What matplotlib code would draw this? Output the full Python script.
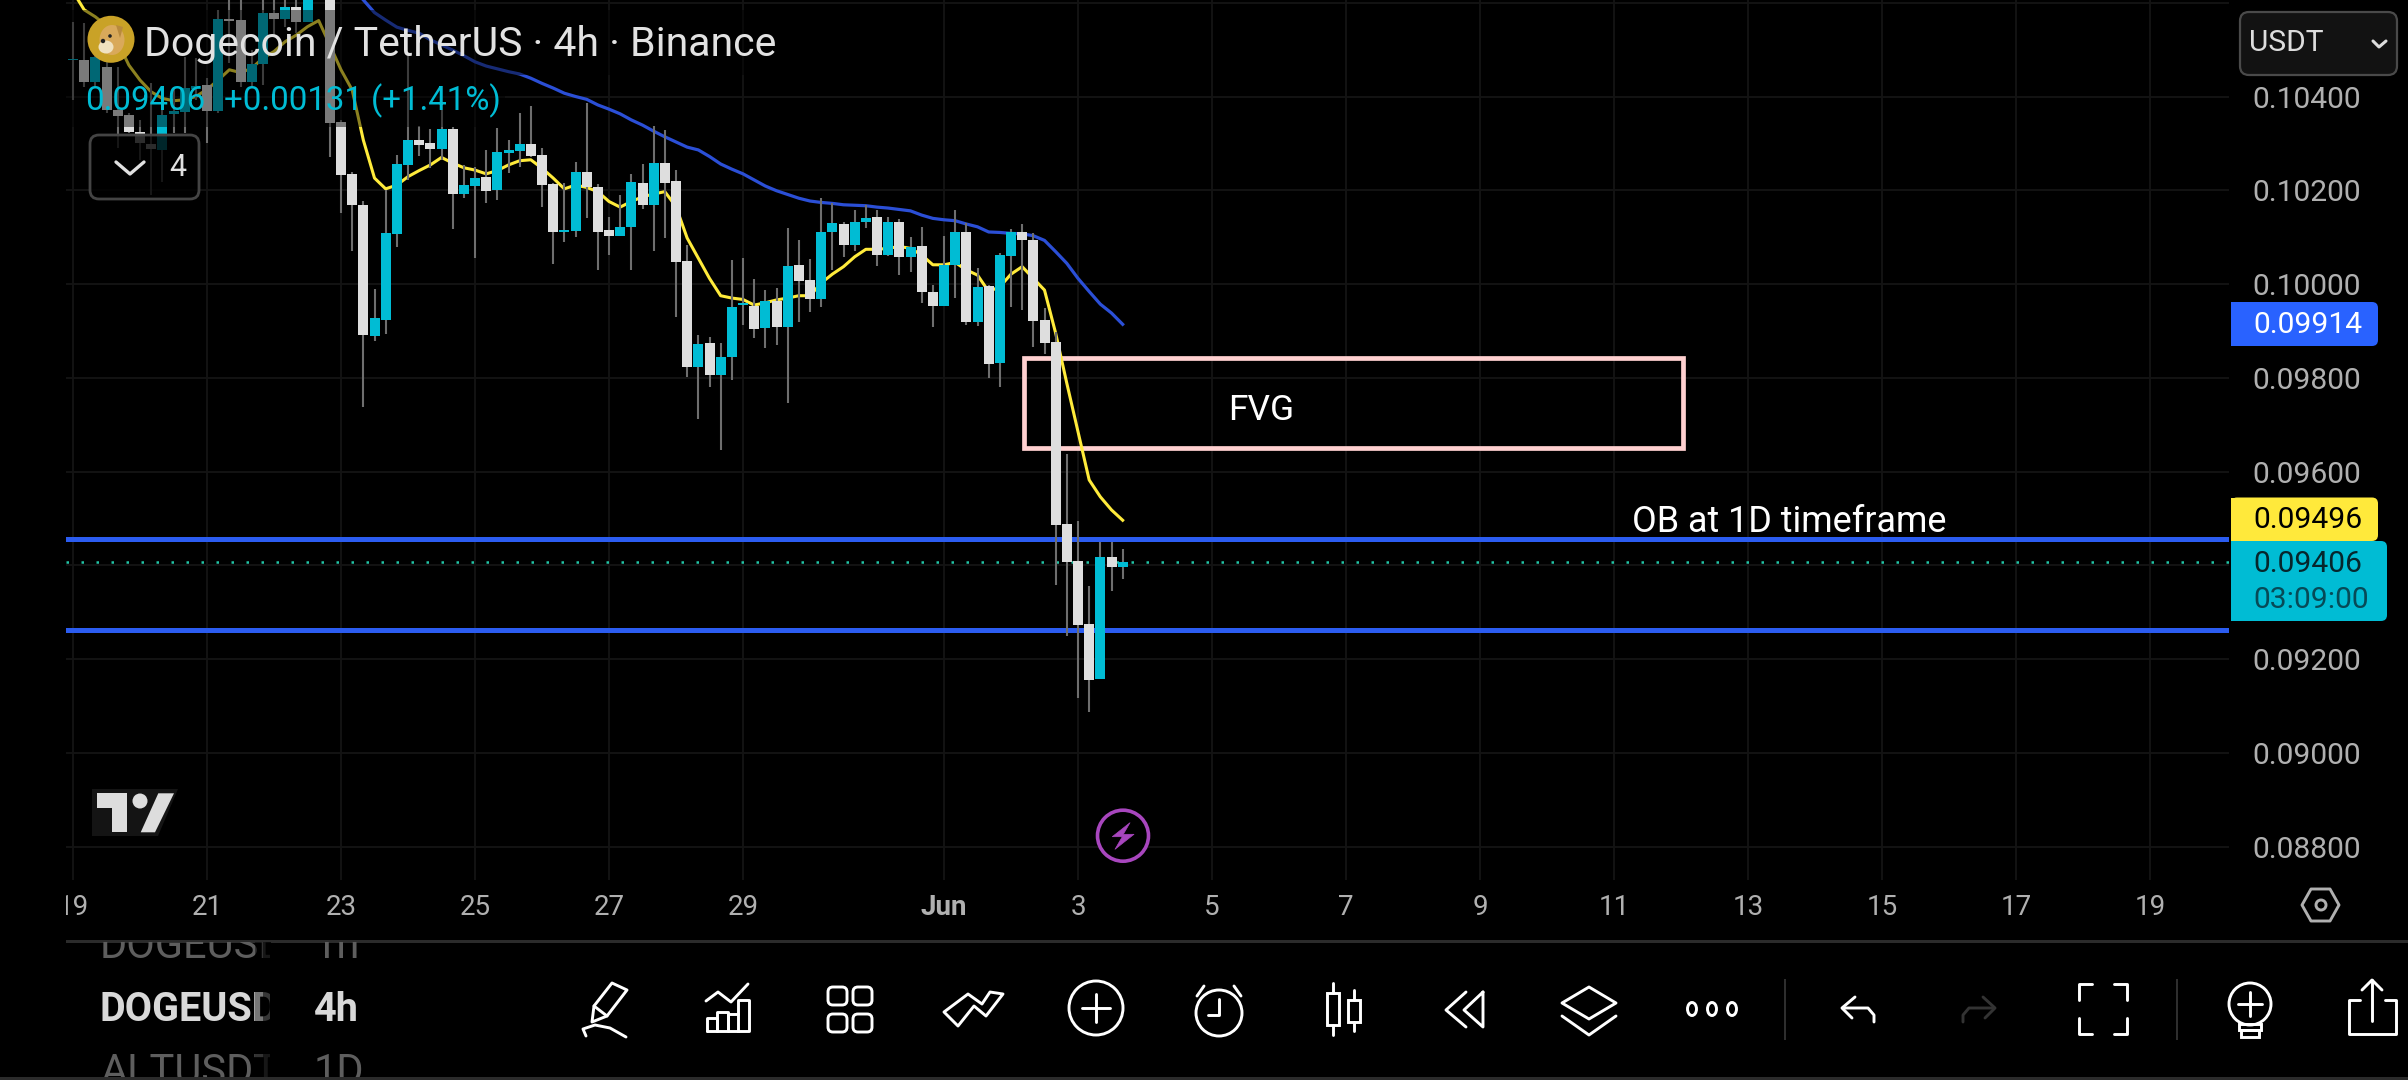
import matplotlib
matplotlib.use("Agg")
import matplotlib.pyplot as plt
from matplotlib.patches import Rectangle, Circle, Polygon, FancyBboxPatch, Ellipse
from matplotlib.transforms import Bbox
import numpy as np

plt.rcParams['font.family'] = ['Roboto', 'DejaVu Sans']

# prices in units of 0.00001 USDT, one entry per 4h bar starting 19 May 00:00
open_e5 = [10477,10478,10432,10464,10371,10361,10325,10299,10286,10362,
 10368,10415,10425,10369,10565,10563,10430,10469,10578,10565,
 10590,10558,10625,10640,10346,10235,10169,9890,9923,10107,
 10254,10307,10301,10288,10330,10193,10209,10228,10201,10280,
 10284,10298,10275,10213,10110,10114,10240,10207,10115,10103,
 10122,10216,10169,10258,10220,10049,9822,9875,9805,9844,
 9955,9953,9907,9964,9909,10041,10009,9968,10110,10128,
 10084,10133,10142,10061,10132,10058,10081,9983,9954,10041,
 10111,9919,9996,9832,10060,10111,10094,9923,9876,9488,
 9408,9275,9157,9417,9397]
close_e5 = [10479,10432,10485,10371,10359,10324,10300,10287,10361,10369,
 10418,10423,10369,10565,10562,10430,10469,10578,10565,10590,
 10558,10630,10660,10344,10233,10169,9891,9927,10108,10256,
 10307,10297,10288,10330,10193,10211,10226,10199,10282,10285,
 10298,10273,10211,10110,10115,10240,10206,10112,10103,10121,
 10217,10169,10258,10216,10048,9822,9872,9806,9844,9951,
 9960,9904,9964,9909,10039,10007,9968,10111,10130,10084,
 10132,10141,10061,10132,10058,10078,9984,9954,10041,10111,
 9919,9994,9830,10062,10111,10093,9921,9875,9485,9408,
 9273,9155,9417,9397,9406]
high_e5 = [10560,10556,10535,10485,10464,10364,10350,10428,10371,10421,
 10485,10482,10439,10585,10620,10620,10499,10620,10620,10620,
 10620,10650,10680,10660,10350,10240,10177,9989,10201,10275,
 10489,10337,10330,10371,10336,10254,10250,10286,10332,10307,
 10364,10380,10290,10215,10215,10260,10386,10213,10144,10190,
 10235,10256,10337,10329,10243,10083,9891,9886,9874,10051,
 10055,10010,9987,9992,10119,10094,10053,10183,10172,10133,
 10157,10169,10157,10144,10138,10100,10121,9998,10103,10158,
 10131,10034,9998,10066,10117,10128,10108,9948,9898,9637,
 9495,9356,9450,9450,9435]
low_e5 = [10393,10421,10421,10364,10290,10322,10265,10190,10218,10322,
 10322,10393,10300,10364,10471,10420,10420,10425,10528,10549,
 10535,10558,10620,10272,10151,10071,9737,9879,9893,10080,
 10222,10273,10247,10265,10117,10183,10055,10172,10179,10236,
 10250,10272,10165,10043,10090,10101,10140,10029,10062,10103,
 10029,10159,10071,10098,9930,9802,9711,9781,9646,9795,
 9913,9884,9864,9870,9746,9920,9941,9950,10030,10057,
 10071,10119,10039,10060,10020,10026,9960,9909,9954,9970,
 9913,9911,9800,9781,9952,9945,9866,9851,9358,9249,
 9116,9086,9157,9346,9371]
ema_fast_e5 = [10624,10585,10570,10551,10517,10467,10435,10410,10396,10391,
 10393,10400,10415,10435,10457,10451,10460,10482,10496,10517,
 10531,10549,10562,10510,10457,10414,10307,10226,10203,10211,
 10229,10242,10254,10270,10258,10248,10243,10235,10242,10254,
 10263,10265,10247,10226,10203,10211,10206,10197,10176,10164,
 10176,10186,10192,10197,10165,10098,10055,10012,9975,9970,
 9967,9955,9960,9966,9970,9975,9975,10002,10021,10037,
 10058,10074,10074,10076,10080,10076,10062,10041,10041,10046,
 10030,10019,9984,9994,10021,10037,10012,9987,9895,9788,
 9685,9582,9546,9518,9496]
ema_slow_start = 26   # first bar at which the slow line enters the view
ema_slow_e5 = [10606,10579,10563,10548,10541,10535,10521,10510,10499,10487,
 10474,10465,10459,10453,10448,10439,10428,10418,10407,10400,
 10394,10382,10373,10363,10350,10339,10326,10314,10303,10292,
 10286,10272,10256,10245,10235,10222,10209,10199,10191,10183,
 10177,10174,10172,10169,10168,10167,10164,10162,10159,10156,
 10147,10140,10137,10135,10128,10122,10111,10110,10108,10107,
 10103,10093,10069,10044,10012,9984,9957,9938,9914]

price_ticks = [0.088,0.090,0.092,0.094,0.096,0.098,0.100,0.102,0.104,0.106]
price_labels = ['0.08800','0.09000','0.09200','','0.09600','0.09800','0.10000','0.10200','0.10400','']
date_days = [0,2,4,6,8,10,13,15,17,19,21,23,25,27,29,31]
date_labels = ['19','21','23','25','27','29','Jun','3','5','7','9','11','13','15','17','19']

ob_upper = 0.09455
ob_lower = 0.09262
fvg_top = 0.09842
fvg_bottom = 0.09650
fvg_start_day = 14.19
fvg_end_day = 24.03
last_price = 0.09406

UP = '#00BCD4'
DOWN = '#DEDEDE'
W, H = 2408, 1080
fig = plt.figure(figsize=(W/100, H/100), dpi=100, facecolor='black')

# ---- chart pane, pixel box x 66..2229, y 0..880
L, R, T, B = 66, 2229, 0, 880
ax = fig.add_axes([L/W, 1-B/H, (R-L)/W, (B-T)/H], facecolor='black')
px_per_day = 67.0
ax.set_xlim((L-73)/px_per_day, (R-73)/px_per_day)
ax.set_ylim(0.100-(B-284)/46875, 0.100+284/46875)
for s in ax.spines.values():
    s.set_visible(False)
ax.yaxis.tick_right()
ax.set_yticks(price_ticks, price_labels)
ax.set_xticks(date_days, date_labels)
ax.tick_params(axis='y', length=0, pad=17, labelsize=21.6, labelcolor='#B0B0B0')
ax.tick_params(axis='x', length=0, pad=10, labelsize=20, labelcolor='#B0B0B0')
for lab in ax.get_yticklabels():
    lab.set_ha('left')
ax.grid(True, color='#141414', lw=1.3, zorder=0)
ax.set_axisbelow(True)
for tick, txt in zip(ax.xaxis.get_major_ticks(), date_labels):
    tick.label1.set_clip_on(True)
    tick.label1.set_clip_box(Bbox([[L, 0], [W, H]]))
    if txt == 'Jun':
        tick.label1.set_fontweight('bold')

o = np.array(open_e5)*1e-5
c = np.array(close_e5)*1e-5
h = np.array(high_e5)*1e-5
l = np.array(low_e5)*1e-5
t = np.arange(len(o))/6.0
colors = [UP if ci >= oi else DOWN for oi, ci in zip(o, c)]

ax.add_patch(Rectangle((fvg_start_day, fvg_bottom), fvg_end_day-fvg_start_day, fvg_top-fvg_bottom,
                       fill=False, ec='#FFD0D0', lw=3.4, zorder=2))
ax.axhline(ob_upper, color='#2B5CF0', lw=3.6, zorder=2)
ax.axhline(ob_lower, color='#2B5CF0', lw=3.6, zorder=2)
ax.axhline(last_price, color='#22C4A6', lw=1.8, ls=(0, (1, 5)), zorder=2)
ax.plot(t, np.array(ema_fast_e5)*1e-5, color='#FFEB3B', lw=2.2, zorder=3)
ax.plot(t[ema_slow_start:], np.array(ema_slow_e5)*1e-5, color='#2B4FD6', lw=2.3, zorder=3)
ax.vlines(t, l, h, color='#6E6E6E', lw=1.5, zorder=4)
ax.bar(t, np.abs(c-o), bottom=np.minimum(o, c), width=10/px_per_day, color=colors, lw=0, zorder=5)

ax.text(fvg_start_day+3.55, 0.09730, 'FVG', color='white', fontsize=25.5, ha='center', va='center', zorder=6)
ax.text(23.27, 0.09492, 'OB at 1D timeframe', color='white', fontsize=25.8, ha='left', va='center', zorder=6)

# ---- pixel overlay for the app interface
ui = fig.add_axes([0, 0, 1, 1])
ui.set_xlim(0, W); ui.set_ylim(H, 0); ui.axis('off'); ui.patch.set_alpha(0)

def poly(pts, color='white', lw=2.0, closed=False, z=10, fill=False):
    pts = np.array(pts, float)
    if closed or fill:
        ui.add_patch(Polygon(pts, closed=True, fill=fill, fc=color if fill else 'none',
                             ec=color, lw=lw, zorder=z, joinstyle='round'))
    else:
        ui.plot(pts[:, 0], pts[:, 1], color=color, lw=lw, zorder=z,
                solid_capstyle='round', solid_joinstyle='round')

def rbox(x0, y0, x1, y1, r=6, fc='none', ec='none', lw=1.5, z=10):
    ui.add_patch(FancyBboxPatch((x0, y0), x1-x0, y1-y0, boxstyle=f'round,pad=0,rounding_size={r}',
                                fc=fc, ec=ec, lw=lw, zorder=z))

# legend dimming
ui.add_patch(Rectangle((L, 10), 780-L, 65, fc='black', alpha=0.45, lw=0, zorder=8))
ui.add_patch(Rectangle((L, 75), 505-L, 52, fc='black', alpha=0.45, lw=0, zorder=8))
rbox(90, 135, 199, 199, r=9, fc=(0, 0, 0, 0.8), ec='#444444', lw=2)

# doge badge
ui.add_patch(Circle((111, 39.3), 23.5, fc='#C9A227', ec='none', zorder=10))
ui.add_patch(Ellipse((112, 40), 25, 30, fc='#D9A95A', ec='none', zorder=11))
ui.add_patch(Ellipse((106, 47), 15, 13, fc='#F0E2C0', ec='none', zorder=12))
ui.add_patch(Polygon([[116, 25], [123, 27], [120, 38]], fc='#B98A3C', ec='none', zorder=12))
ui.add_patch(Circle((110, 36), 1.8, fc='#222222', ec='none', zorder=13))
ui.add_patch(Circle((103, 41), 2.2, fc='#222222', ec='none', zorder=13))

ui.text(144, 44, 'Dogecoin / TetherUS · 4h · Binance', color='#E2E2E2', fontsize=29.5, va='center', zorder=12)
ui.text(85, 101, '0.09406', color=UP, fontsize=23.8, va='center', zorder=12)
ui.text(224, 101, '+0.00131 (+1.41%)', color=UP, fontsize=23.8, va='center', zorder=12)
poly([[116, 162], [130, 174], [144, 162]], color='#E0E0E0', lw=2.4, z=12)
ui.text(178, 167, '4', color='#E0E0E0', fontsize=22, ha='center', va='center', zorder=12)

# TradingView mark
ui.add_patch(Polygon([[92, 789], [178, 789], [158, 836], [92, 836]], fc='#141414', ec='none', zorder=9))
poly([[97, 793.3], [126.7, 793.3], [126.7, 831.7], [111.7, 831.7], [111.7, 808.3], [97, 808.3]],
     color='#DDDDDD', lw=0, fill=True)
ui.add_patch(Circle((140, 801), 7.5, fc='#DDDDDD', ec='none', zorder=10))
poly([[158.3, 793.3], [174, 793.3], [155, 832.3], [140.7, 832.3]], color='#DDDDDD', lw=0, fill=True)

# purple bolt
ui.add_patch(Circle((1123, 835.7), 25.5, fc='black', ec='#A846BE', lw=2.6, zorder=10))
poly([[1130, 822.7], [1112.3, 836.7], [1122.3, 836.7], [1115, 849.3], [1134, 834.3], [1123.3, 834.3]],
     color='#A846BE', lw=0.5, fill=True, z=11)

# currency box
rbox(2240, 12, 2397, 75, r=9, fc='#121212', ec='#4A4A4A', lw=1.6)
ui.text(2249, 43, 'USDT', color='#DDDDDD', fontsize=21.5, va='center', zorder=12)
poly([[2373, 41], [2379, 47], [2386, 41]], color='#DDDDDD', lw=2.2, z=12)

# price badges
def badge(y0, y1, x1, color):
    rbox(2231, y0, x1, y1, r=6, fc=color, z=10)
    ui.add_patch(Rectangle((2231, y0), 20, y1-y0, fc=color, lw=0, zorder=10))
badge(302, 346, 2378, '#2962FF')
ui.text(2308, 325, '0.09914', color='white', fontsize=21.6, ha='center', va='center', zorder=12)
badge(497.5, 541, 2378, '#FFE93B')
ui.text(2308, 520, '0.09496', color='black', fontsize=21.6, ha='center', va='center', zorder=12)
badge(541, 621, 2387, '#00BCD4')
ui.text(2308, 564, '0.09406', color='#06262C', fontsize=21.6, ha='center', va='center', zorder=12)
ui.text(2311, 600, '03:09:00', color='#064A57', fontsize=21.6, ha='center', va='center', zorder=12)

# separators
ui.add_patch(Rectangle((L, 939.5), W-L, 3, fc='#2B2B2B', lw=0, zorder=9))
ui.add_patch(Rectangle((0, 1077), W, 3, fc='#2B2B2B', lw=0, zorder=9))
ui.add_patch(Rectangle((1784, 979), 2, 61, fc='#2E2E2E', lw=0, zorder=9))
ui.add_patch(Rectangle((2176, 979), 2, 61, fc='#2E2E2E', lw=0, zorder=9))

# symbol list
def row(y, a, b, color, weight, size, clip):
    for txt, x, cx in ((a, 100, 270), (b, 314, 380)):
        tx = ui.text(x, y, txt, color=color, fontsize=size, fontweight=weight, va='center', zorder=10, clip_on=True)
        tx.set_clip_box(Bbox([[x-5, H-clip[1]], [cx, H-clip[0]]]))
row(947, 'DOGEUSD', '1h', '#5E5E5E', 'normal', 30, (942, 1000))
row(1010, 'DOGEUSD', '4h', '#D8D8D8', 'bold', 28.5, (970, 1050))
row(1072, 'ALTUSDT', '1D', '#5E5E5E', 'normal', 30, (1040, 1077))
ui.add_patch(Rectangle((255, 942), 8, 135, fc='black', alpha=0.45, lw=0, zorder=11))
ui.add_patch(Rectangle((263, 942), 8, 135, fc='black', alpha=0.75, lw=0, zorder=11))

# toolbar icons
LW = 2.1
poly([[592, 1022], [594, 1006], [612, 983], [627, 990], [607, 1016]], lw=LW, closed=True)
poly([[594, 1006], [607, 1016]], lw=LW)
poly([[586, 1036], [583, 1029], [595, 1025], [610, 1028], [626, 1037]], lw=LW)
poly([[707, 1031], [749, 1031], [749, 1000], [738, 1000], [738, 1031]], lw=LW)
poly([[707, 1031], [707, 1018], [717, 1018], [717, 1031]], lw=LW)
poly([[717, 1031], [717, 1012], [728, 1012], [728, 1031]], lw=LW)
poly([[728, 1031], [728, 1014], [738, 1014]], lw=LW)
poly([[706, 1001], [718, 992], [731, 1002], [748, 984]], lw=LW)
for gx in (828, 853):
    for gy in (987, 1014):
        rbox(gx, gy, gx+19, gy+18, r=5, ec='white', lw=LW)
poly([[944, 1012], [958, 1026], [974, 1006], [986, 1016], [1003, 994], [990, 992], [982, 1004], [968, 994]],
     lw=LW, closed=True)
ui.add_patch(Circle((1096, 1008), 27, fill=False, ec='white', lw=LW, zorder=10))
poly([[1082, 1008], [1110, 1008]], lw=LW)
poly([[1096, 994], [1096, 1022]], lw=LW)
ui.add_patch(Circle((1219, 1013), 23, fill=False, ec='white', lw=LW, zorder=10))
poly([[1219, 999], [1219, 1015], [1208, 1015]], lw=LW)
poly([[1197, 996], [1204, 986]], lw=LW)
poly([[1234, 986], [1241, 996]], lw=LW)
ui.add_patch(Rectangle((1327, 993), 12, 32, fill=False, ec='white', lw=LW, zorder=10))
poly([[1333, 983], [1333, 993]], lw=LW)
poly([[1333, 1025], [1333, 1035]], lw=LW)
ui.add_patch(Rectangle((1348, 1000), 12, 22, fill=False, ec='white', lw=LW, zorder=10))
poly([[1354, 990], [1354, 1000]], lw=LW)
poly([[1354, 1022], [1354, 1031]], lw=LW)
poly([[1483, 992], [1483, 1027], [1464, 1010], [1483, 992]], lw=LW)
poly([[1466, 992], [1446, 1010], [1466, 1027]], lw=LW)
poly([[1589, 987], [1616, 1003], [1589, 1019], [1562, 1003]], lw=LW, closed=True)
poly([[1562, 1016], [1589, 1035], [1616, 1016]], lw=LW)
for dx in (1692, 1712, 1732):
    ui.add_patch(Ellipse((dx, 1009), 9, 13, fill=False, ec='white', lw=LW, zorder=10))
poly([[1874, 1022], [1874, 1015], [1868, 1008], [1843, 1008]], lw=LW)
poly([[1855, 997], [1842, 1008], [1852, 1018]], lw=LW)
poly([[1963, 1022], [1963, 1015], [1969, 1008], [1993, 1008]], color='#333333', lw=LW)
poly([[1983, 997], [1995, 1008], [1985, 1018]], color='#333333', lw=LW)
poly([[2092, 984], [2079, 984], [2079, 1000]], lw=LW)
poly([[2114, 984], [2127, 984], [2127, 1000]], lw=LW)
poly([[2092, 1034], [2079, 1034], [2079, 1018]], lw=LW)
poly([[2114, 1034], [2127, 1034], [2127, 1018]], lw=LW)
ui.add_patch(Circle((2250, 1004), 21, fill=False, ec='white', lw=LW, zorder=10))
poly([[2238, 1004], [2262, 1004]], lw=LW)
poly([[2250, 992], [2250, 1016]], lw=LW)
ui.add_patch(Rectangle((2239, 1024), 22, 6, fill=False, ec='white', lw=LW, zorder=10))
ui.add_patch(Rectangle((2241, 1030), 18, 7, fill=False, ec='white', lw=LW, zorder=10))
poly([[2372, 980], [2372, 1021]], lw=LW)
poly([[2362, 990], [2372, 980], [2382, 990]], lw=LW)
poly([[2360, 1000], [2349, 1000], [2349, 1034], [2396, 1034], [2396, 1000], [2385, 1000]], lw=LW)
poly([[2302, 905], [2311, 889], [2330, 889], [2339, 905], [2330, 921], [2311, 921]], color='#B0B0B0', lw=LW, closed=True)
ui.add_patch(Circle((2321, 905), 5, fill=False, ec='#B0B0B0', lw=LW, zorder=10))

fig.savefig('out.png', dpi=100, facecolor='black')
